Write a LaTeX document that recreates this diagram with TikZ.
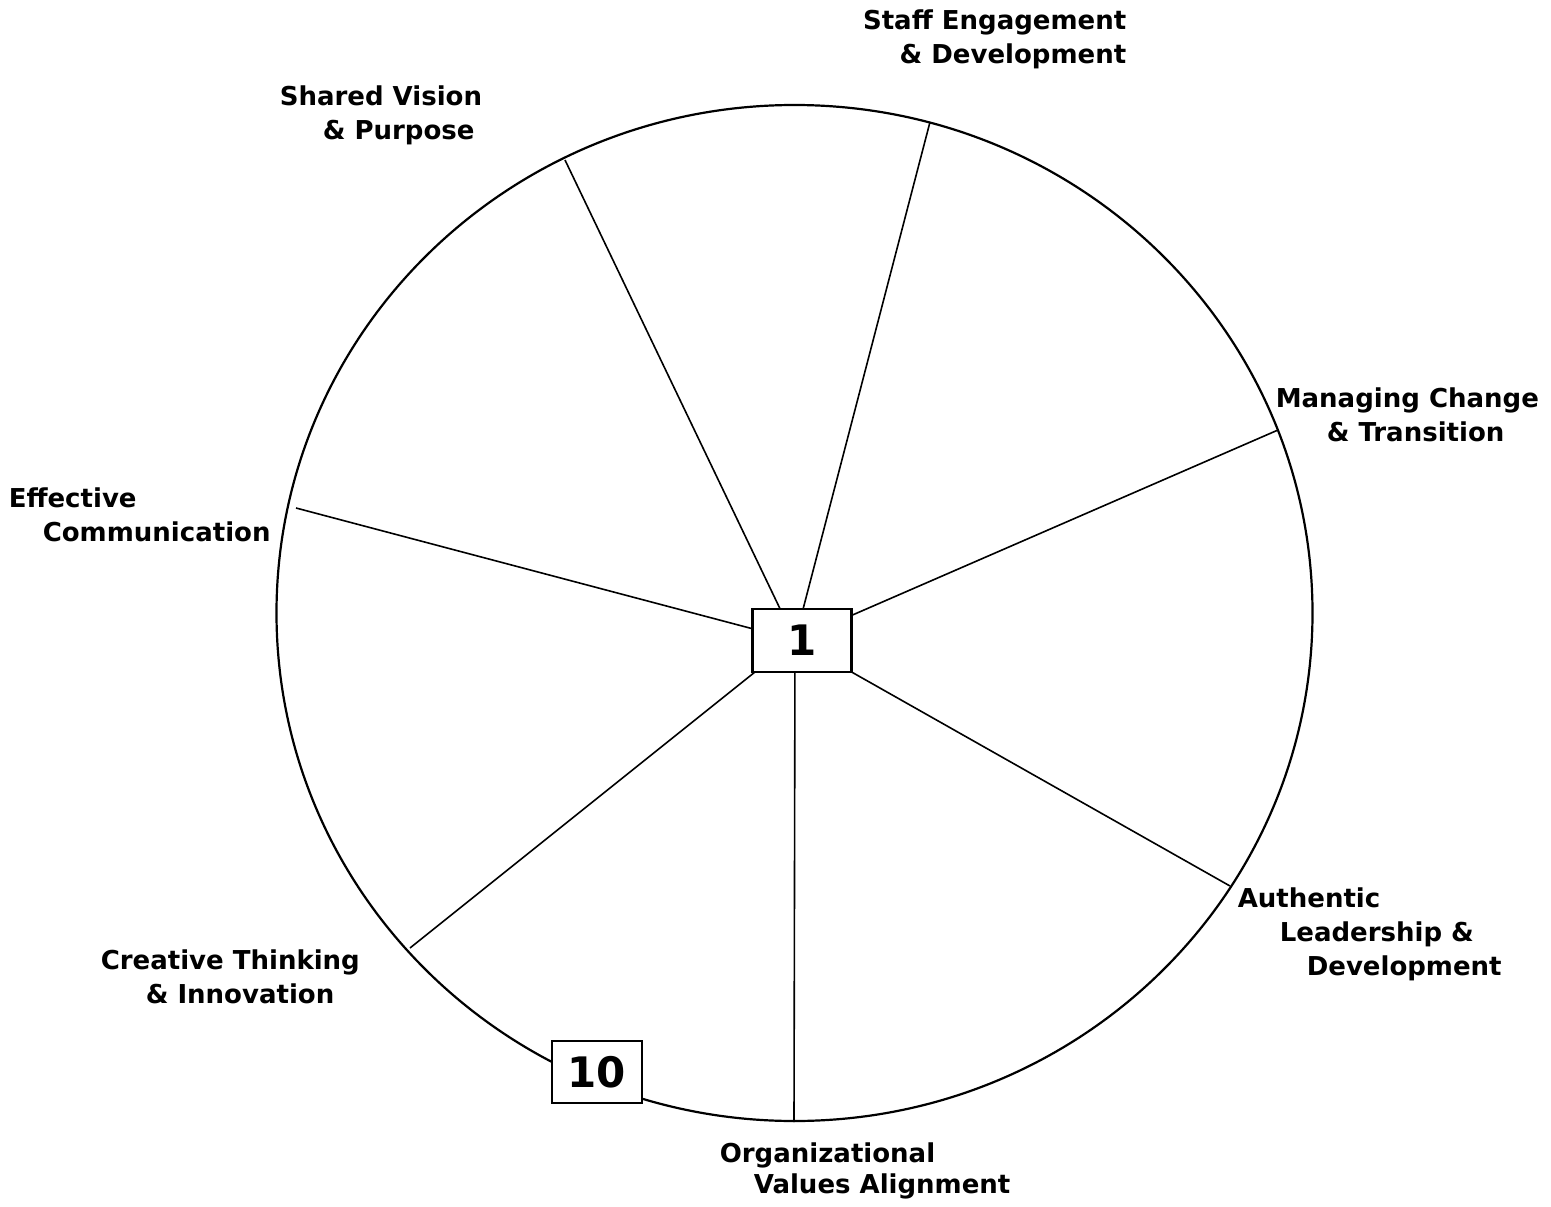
\documentclass[tikz,border=0pt]{standalone}
\usepackage{fontspec}
\setmainfont{DejaVu Sans}

\tikzset{every picture/.style={line width=1.6pt}}

\begin{document}
\begin{tikzpicture}[x=1pt,y=1pt,yscale=-1,xscale=1,
  lbl/.style={inner sep=0pt, font=\fontsize{26}{34}\selectfont\bfseries},
  numbox/.style={draw, line width=2.2pt, fill=white, inner sep=0pt, font=\fontsize{42}{42}\selectfont\bfseries}]
\useasboundingbox (0,0) rectangle (1551,1207);

%Shape: Ellipse [wheel]
\draw [line width=2.2pt] (794.5,613) ellipse [x radius=518, y radius=508];

%Points on the rim
\coordinate (hub) at (795,640);
\coordinate (rimsv) at (565,160);
\coordinate (rimse) at (930,122);
\coordinate (rimmc) at (1278,430);
\coordinate (rimal) at (1230,886);
\coordinate (rimov) at (794,1122);
\coordinate (rimct) at (410,948);
\coordinate (rimec) at (296,508);

%Straight Lines [spokes]
\draw (hub) -- (rimsv);
\draw (hub) -- (rimse);
\draw (hub) -- (rimmc);
\draw (hub) -- (rimal);
\draw (hub) -- (rimov);
\draw (hub) -- (rimct);
\draw (hub) -- (rimec);

%Shape: Rectangle [centre score]
\node [numbox, minimum width=99, minimum height=63] (one) at (802,640.5) {1};
%Shape: Rectangle [rim score]
\node [numbox, minimum width=90, minimum height=62] (ten) at (596.7,1072) {10};

% Text Node
\draw (1127,9.2) node [lbl, anchor=north east, align=right] (staff) {Staff Engagement\\\& Development};
% Text Node
\draw (279,85.2) node [lbl, anchor=north west, align=left] (vision) {Shared Vision\\\hspace*{43pt}\& Purpose};
% Text Node
\draw (1275,387.2) node [lbl, anchor=north west, align=left] (change) {Managing Change\\\hspace*{51pt}\& Transition};
% Text Node
\draw (8,487.2) node [lbl, anchor=north west, align=left] (comm) {Effective\\\hspace*{34pt}Communication};
% Text Node
\draw (1237,887) node [lbl, anchor=north west, align=left] (lead) {Authentic\\\hspace*{42pt}Leadership \&\\\hspace*{69pt}Development};
% Text Node
\draw (100,949) node [lbl, anchor=north west, align=left] (creative) {Creative Thinking\\\hspace*{45pt}\& Innovation};
% Text Node
\draw (719,1141.5) node [lbl, anchor=north west, align=left, font=\fontsize{26}{31}\selectfont\bfseries] (values) {Organizational\\\hspace*{34pt}Values Alignment};

\end{tikzpicture}
\end{document}
